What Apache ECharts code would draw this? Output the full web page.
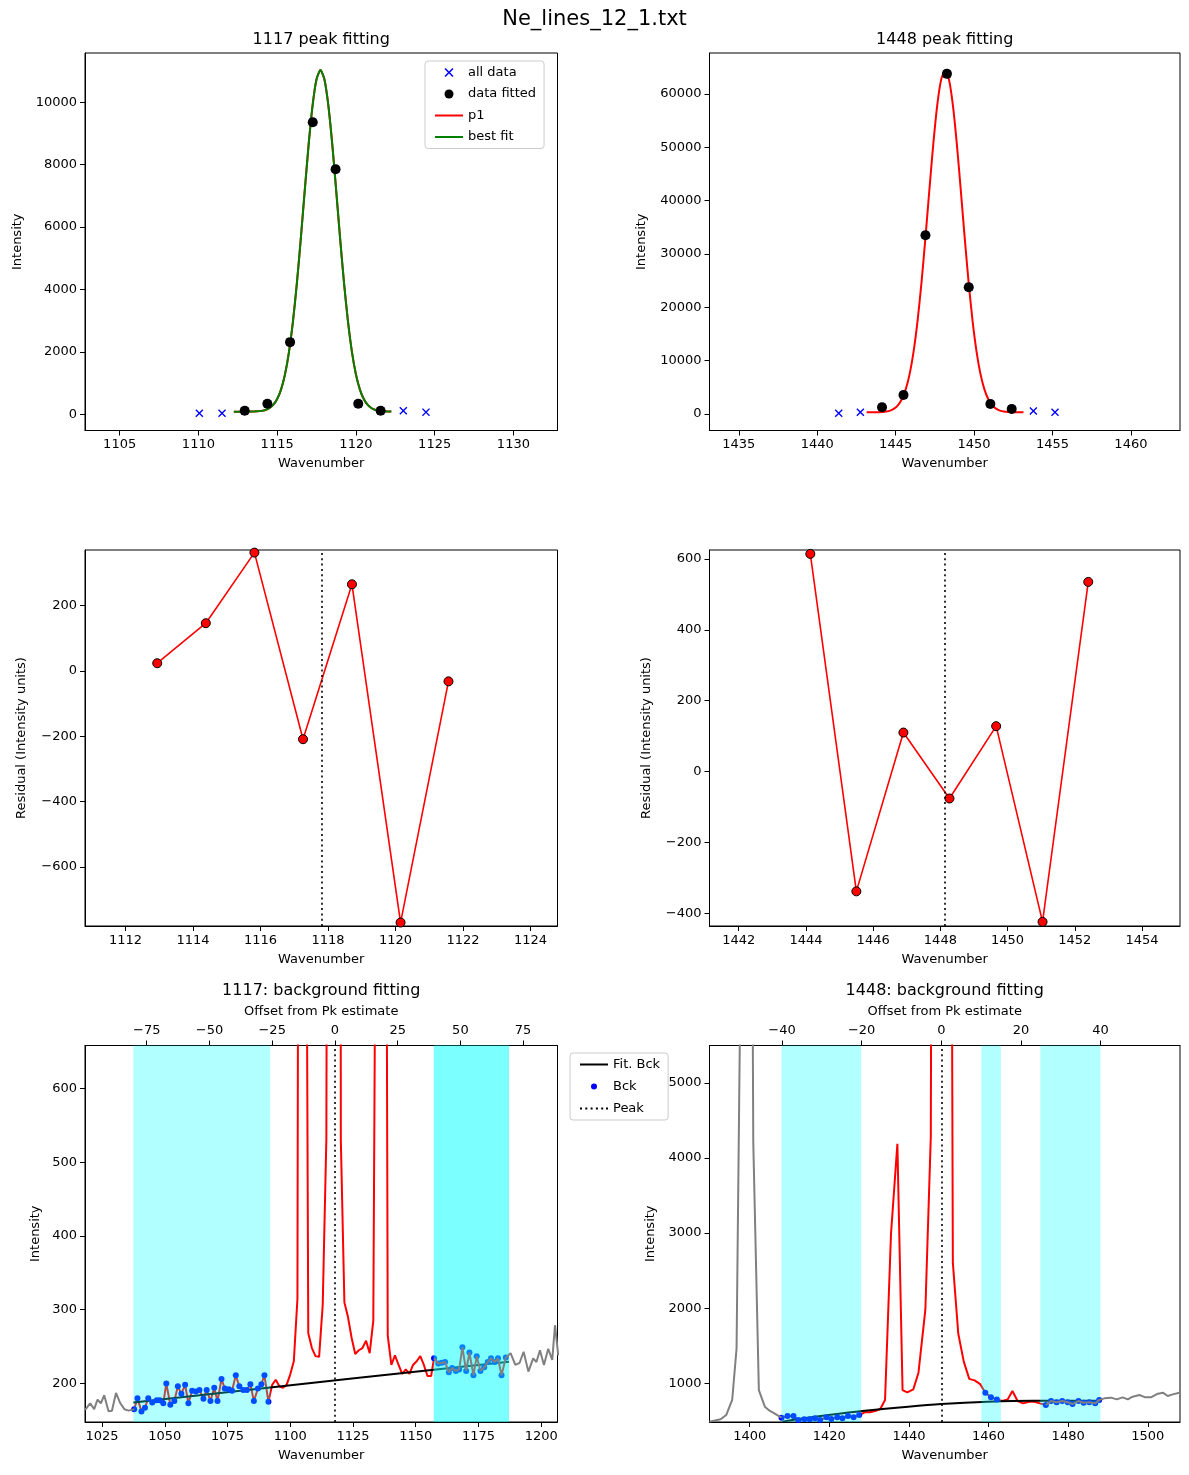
<!DOCTYPE html>
<html>
<head>
<meta charset="utf-8">
<title>Ne_lines_12_1.txt</title>
<script src="https://cdn.jsdelivr.net/npm/echarts@6/dist/echarts.min.js"></script>
<style>
  html, body { margin: 0; padding: 0; background: #fff; }
  #main { width: 1189px; height: 1475px; }
</style>
</head>
<body>
<div id="main"></div>
<script>
// ---- 1117 peak (background subtracted) ----
var wn1117 = [1110.06, 1111.5, 1112.94, 1114.38, 1115.82, 1117.26, 1118.71, 1120.15, 1121.57, 1123.01, 1124.45];
var int1117 = [30, 30, 107, 331, 2308, 9359, 7853, 331, 107, 107, 64];
var fitFrom1117 = 2, fitTo1117 = 8;
var curveWn1117 = [1112.25, 1112.5, 1112.75, 1113.0, 1113.25, 1113.5, 1113.75, 1114.0, 1114.25, 1114.5, 1114.75,
  1115.0, 1115.25, 1115.5, 1115.75, 1116.0, 1116.25, 1116.5, 1116.75, 1117.0, 1117.25, 1117.5, 1117.75,
  1118.0, 1118.25, 1118.5, 1118.75, 1119.0, 1119.25, 1119.5, 1119.75, 1120.0, 1120.25, 1120.5, 1120.75,
  1121.0, 1121.25, 1121.5, 1121.75, 1122.0, 1122.25];
var curve1117 = [80, 80, 80, 81, 82, 84, 90, 104, 132, 189, 295,
  483, 795, 1281, 1990, 2956, 4182, 5617, 7160, 8650, 9903, 10741, 11036,
  10741, 9903, 8650, 7160, 5617, 4182, 2956, 1990, 1281, 795, 483, 295,
  189, 132, 104, 90, 84, 82];
var resid1117 = [23.5, 146, 362, -209, 265, -770, -32];
var peak1117 = 1117.8;

// ---- 1448 peak (background subtracted) ----
var wn1448 = [1441.37, 1442.75, 1444.13, 1445.5, 1446.9, 1448.27, 1449.66, 1451.04, 1452.4, 1453.78, 1455.16];
var int1448 = [130, 320, 1257, 3565, 33520, 63790, 23770, 1876, 938, 560, 320];
var fitFrom1448 = 2, fitTo1448 = 8;
var curveWn1448 = [1443.15, 1443.4, 1443.65, 1443.9, 1444.15, 1444.4, 1444.65, 1444.9, 1445.15, 1445.4, 1445.65,
  1445.9, 1446.15, 1446.4, 1446.65, 1446.9, 1447.15, 1447.4, 1447.65, 1447.9, 1448.15,
  1448.4, 1448.65, 1448.9, 1449.15, 1449.4, 1449.65, 1449.9, 1450.15, 1450.4, 1450.65,
  1450.9, 1451.15, 1451.4, 1451.65, 1451.9, 1452.15, 1452.4, 1452.65, 1452.9, 1453.15];
var curve1448 = [300, 304, 311, 328, 367, 454, 636, 994, 1650, 2810, 4700,
  7620, 11840, 17550, 24735, 33110, 42055, 50670, 57890, 62710, 64400,
  62710, 57890, 50670, 42055, 33110, 24735, 17550, 11840, 7620, 4700,
  2810, 1650, 994, 636, 454, 367, 328, 311, 304, 300];
var resid1448 = [614, -338, 110, -76, 128, -424, 535];
var peak1448 = 1448.13;

// ---- raw spectrum around 1117 ----
var bgWn1117 = [1018.24, 1020.24, 1021.85, 1023.19, 1024.52, 1025.86, 1027.6, 1028.94, 1030.54, 1032.28, 1033.89, 1035.63,
  1037.8, 1039.1, 1040.7, 1042.1, 1043.4, 1045.0, 1046.8, 1048.0, 1049.4, 1050.6, 1052.2, 1053.8, 1055.2, 1056.6, 1058.1,
  1059.4, 1060.9, 1062.4, 1063.8, 1065.4, 1066.7, 1068.2, 1069.7, 1071.0, 1072.6, 1073.9, 1075.5, 1076.8, 1078.3, 1079.7,
  1081.3, 1082.7, 1084.1, 1085.5, 1087.1, 1088.5, 1089.7, 1091.3,
  1092.78, 1094.22, 1095.66, 1097.1, 1098.54, 1099.98, 1101.42, 1102.86, 1104.3, 1105.74, 1107.18, 1108.62, 1110.06,
  1111.5, 1112.94, 1114.38, 1115.82, 1117.26, 1118.71, 1120.15, 1121.57, 1123.01, 1124.45, 1125.89, 1127.33, 1128.77,
  1130.21, 1131.65, 1133.09, 1134.53, 1135.97, 1137.41, 1138.85, 1140.29, 1141.73, 1143.17, 1144.61, 1146.05, 1147.49,
  1148.93, 1150.37, 1151.81, 1153.25, 1154.69, 1156.13,
  1157.3, 1159.0, 1160.4, 1161.7, 1163.2, 1164.5, 1166.0, 1167.3, 1168.6, 1170.1, 1171.4, 1173.0, 1174.3, 1175.8,
  1177.3, 1178.7, 1180.0, 1181.5, 1182.8, 1184.2, 1185.9,
  1187.8, 1189.7, 1191.4, 1193.0, 1194.9, 1196.8, 1198.1, 1199.5, 1201.1, 1202.8, 1204.4, 1205.5, 1206.8];
var bgInt1117 = [164, 173, 165, 178, 173, 184, 162, 163, 187, 173, 165, 163,
  165, 180, 162, 167, 180, 174, 177, 177, 173, 200, 171, 176, 196, 186, 198,
  173, 190, 189, 191, 179, 191, 176, 194, 176, 206, 193, 192, 190, 211, 196,
  191, 191, 199, 176, 193, 199, 211, 175,
  198, 205, 196, 194, 198, 212, 230, 315, 3000, 1500, 268, 248, 237,
  236, 307, 531, 2510, 9560, 8055, 531, 310, 290, 262, 240, 245, 248,
  258, 241, 285, 1200, 4000, 2000, 265, 225, 238, 225, 213, 219, 213,
  225, 230, 237, 225, 210, 210,
  234, 227, 228, 229, 215, 221, 217, 219, 249, 217, 242, 211, 237, 217,
  222, 229, 234, 229, 234, 211, 235,
  241, 225, 228, 243, 216, 234, 229, 245, 225, 247, 232, 279, 238];
// background windows (the right one is shaded twice in the original)
var bgSpan1117 = [[1037.5, 1092.0], [1157.2, 1187.2], [1157.2, 1187.2]];
var fitBgWn1117 = [1037.5, 1092.0, 1157.2, 1187.2];
var fitBg1117 = [174, 194.5, 218.5, 229.5];

// ---- raw spectrum around 1448 ----
var bgWn1448 = [1389.9, 1391.0, 1392.7, 1394.1, 1395.6, 1396.7, 1398.1, 1399.5, 1400.9, 1402.3, 1403.8, 1405.0, 1406.5, 1408.0,
  1409.5, 1411.0, 1412.2, 1413.7, 1415.1, 1416.4, 1417.7, 1419.3, 1420.5, 1422.0, 1423.3, 1424.7, 1426.1, 1427.5,
  1428.9, 1430.2, 1431.5, 1432.8, 1434.0, 1435.5, 1437.1, 1438.4, 1439.6, 1441.1, 1442.4, 1444.13, 1445.5, 1446.9,
  1448.27, 1449.66, 1451.04, 1452.4, 1453.78, 1455.16, 1456.5, 1457.9,
  1459.2, 1460.6, 1462.1,
  1463.5, 1464.8, 1466.0, 1467.3, 1468.7, 1470.2, 1471.5, 1472.9,
  1474.4, 1475.7, 1477.1, 1478.5, 1479.9, 1481.1, 1482.6, 1483.9, 1485.3, 1486.8, 1487.8,
  1489.1, 1490.8, 1492.2, 1493.7, 1495.0, 1496.2, 1497.9, 1499.4, 1500.8, 1502.3, 1503.8, 1505.0, 1506.3, 1507.9];
var bgInt1448 = [491, 504, 522, 579, 779, 1465, 8500, 20000, 4200, 911, 690, 637, 592, 544,
  566, 566, 513, 522, 522, 535, 513, 548, 526, 548, 535, 566, 548, 579,
  615, 615, 632, 659, 779, 2993, 4189, 911, 880, 920, 1142, 1980, 4290, 34240,
  64510, 24490, 2600, 1660, 1290, 1060, 1040, 990,
  876, 814, 787,
  765, 787, 898, 765, 734, 756, 756, 734,
  712, 765, 748, 765, 748, 725, 765, 743, 748, 734, 779,
  801, 810, 787, 814, 787, 823, 845, 814, 814, 858, 876, 832, 854, 876];
var bgSpan1448 = [[1408.0, 1428.0], [1458.2, 1463.1], [1473.0, 1488.1]];
var fitBgWn1448 = [1408.2, 1414.0, 1419.8, 1428.3, 1439.8, 1448.1, 1459.8, 1471.0, 1487.8];
var fitBg1448 = [491, 538, 579, 632, 690, 725, 756, 770, 770];

// ---- tick labels ----
var ticksX1117 = [1105, 1110, 1115, 1120, 1125, 1130];
var ticksY1117 = [0, 2000, 4000, 6000, 8000, 10000];
var ticksX1448 = [1435, 1440, 1445, 1450, 1455, 1460];
var ticksY1448 = [0, 10000, 20000, 30000, 40000, 50000, 60000];
var ticksResX1117 = [1112, 1114, 1116, 1118, 1120, 1122, 1124];
var ticksResY1117 = [-600, -400, -200, 0, 200];
var ticksResX1448 = [1442, 1444, 1446, 1448, 1450, 1452, 1454];
var ticksResY1448 = [-400, -200, 0, 200, 400, 600];
var ticksBgX1117 = [1025, 1050, 1075, 1100, 1125, 1150, 1175, 1200];
var ticksOff1117 = [-75, -50, -25, 0, 25, 50, 75];
var ticksBgY1117 = [200, 300, 400, 500, 600];
var ticksBgX1448 = [1400, 1420, 1440, 1460, 1480, 1500];
var ticksOff1448 = [-40, -20, 0, 20, 40];
var ticksBgY1448 = [1000, 2000, 3000, 4000, 5000];

var FONT = 'DejaVu Sans';
var XMARK = 'path://M0,1.2L1.2,0L5,3.8L8.8,0L10,1.2L6.2,5L10,8.8L8.8,10L5,6.2L1.2,10L0,8.8L3.8,5Z';
var DOTTED = [2, 3.3];
// legend handles
var ICON_LINE = 'path://M0,0H28V2H0Z';
var ICON_DOTTED = 'path://M0,0H2V2H0ZM5.3,0H7.3V2H5.3ZM10.6,0H12.6V2H10.6ZM15.9,0H17.9V2H15.9ZM21.2,0H23.2V2H21.2ZM26,0H28V2H26Z';

function fmt(v) {
  return v < 0 ? '\u2212' + Math.abs(v) : String(v);
}

function pairs(xs, ys) {
  return xs.map(function (x, i) { return [x, ys[i]]; });
}

function axis(grid, min, max, ticks, extra) {
  var a = {
    type: 'value', gridIndex: grid, min: min, max: max,
    axisLine: { show: true, onZero: false, lineStyle: { color: '#000', width: 1 } },
    axisTick: { show: true, length: 5, customValues: ticks, lineStyle: { color: '#000', width: 1 } },
    axisLabel: { customValues: ticks, margin: 8, color: '#000', fontSize: 13, fontFamily: FONT, formatter: fmt },
    splitLine: { show: false },
    nameLocation: 'middle',
    nameTextStyle: { color: '#000', fontSize: 13, fontFamily: FONT }
  };
  for (var k in extra) a[k] = extra[k];
  return a;
}

// split the raw spectrum into the grey parts, the red part and the bck points
function splitBg(wn, ints, spans) {
  var all = pairs(wn, ints);
  var first = spans[0][0];
  var lastStart = spans[spans.length - 1][0];
  var i0 = wn.findIndex(function (x) { return x >= first; });
  var i1 = wn.findIndex(function (x) { return x >= lastStart; });
  return {
    greyLeft: all.slice(0, i0 + 1),
    red: all.slice(i0, i1 + 1),
    greyRight: all.slice(i1),
    bck: all.filter(function (p) {
      return spans.some(function (s) { return p[0] >= s[0] && p[0] <= s[1]; });
    })
  };
}

function bgSeries(ax, tag, parts, spans, fitWn, fit, peak, names) {
  return [
    {
      name: 'red ' + tag, type: 'line', xAxisIndex: ax, yAxisIndex: ax, z: 2,
      data: parts.red, symbol: 'none', lineStyle: { color: '#ff0000', width: 2 },
      markArea: {
        silent: true, z: 3, itemStyle: { color: '#00ffff', opacity: 0.3 },
        data: spans.map(function (s) { return [{ xAxis: s[0] }, { xAxis: s[1] }]; })
      },
      markLine: {
        silent: true, z: 6, symbol: ['none', 'none'], label: { show: false },
        lineStyle: { color: '#000', type: DOTTED, width: 1.6 },
        data: [{ xAxis: peak }]
      }
    },
    {
      name: names[0], type: 'line', xAxisIndex: ax, yAxisIndex: ax, z: 2,
      data: pairs(fitWn, fit), symbol: 'none', smooth: 0.3,
      lineStyle: { color: '#000', width: 2 }, itemStyle: { color: '#000' }
    },
    {
      name: names[1], type: 'scatter', xAxisIndex: ax, yAxisIndex: ax, z: 2,
      data: parts.bck, symbol: 'circle', symbolSize: 6, itemStyle: { color: '#0000ff', opacity: 1 }
    },
    {
      name: 'grey left ' + tag, type: 'line', xAxisIndex: ax, yAxisIndex: ax, z: 4,
      data: parts.greyLeft, symbol: 'none', lineStyle: { color: '#808080', width: 2 }
    },
    {
      name: 'grey right ' + tag, type: 'line', xAxisIndex: ax, yAxisIndex: ax, z: 4,
      data: parts.greyRight, symbol: 'none', lineStyle: { color: '#808080', width: 2 }
    },
    {
      name: names[2], type: 'line', xAxisIndex: ax, yAxisIndex: ax, data: [],
      symbol: 'none', lineStyle: { color: '#000', type: DOTTED, width: 1.6 }, itemStyle: { color: '#000' }
    }
  ];
}

var parts1117 = splitBg(bgWn1117, bgInt1117, bgSpan1117);
var parts1448 = splitBg(bgWn1448, bgInt1448, bgSpan1448);

var L = 85, R = 709.5, WL = 472.5, WR = 470.5;
var bgMin1117 = 1018.2, bgMax1117 = 1206.5;
var bgMin1448 = 1389.9, bgMax1448 = 1508.1;

var chart = echarts.init(document.getElementById('main'), null, { renderer: 'canvas' });

function title(x, y, text, size) {
  return {
    type: 'text', x: x, y: y,
    style: { text: text, font: size + 'px "DejaVu Sans"', fill: '#000', align: 'center', verticalAlign: 'middle', textAlign: 'center', textVerticalAlign: 'middle' }
  };
}

var option = {
  animation: false,
  backgroundColor: '#fff',
  textStyle: { fontFamily: FONT },
  graphic: [
    title(594.5, 20, 'Ne_lines_12_1.txt', 21),
    title(L + WL / 2, 40, '1117 peak fitting', 16),
    title(R + WR / 2, 40, '1448 peak fitting', 16),
    title(L + WL / 2, 991, '1117: background fitting', 16),
    title(R + WR / 2, 991, '1448: background fitting', 16)
  ],
  grid: [
    { left: L, top: 53, width: WL, height: 377.5, show: true, borderColor: '#000', borderWidth: 1 },
    { left: R, top: 53, width: WR, height: 377.5, show: true, borderColor: '#000', borderWidth: 1 },
    { left: L, top: 550, width: WL, height: 376, show: true, borderColor: '#000', borderWidth: 1 },
    { left: R, top: 550, width: WR, height: 376, show: true, borderColor: '#000', borderWidth: 1 },
    { left: L, top: 1045.5, width: WL, height: 376.5, show: true, borderColor: '#000', borderWidth: 1 },
    { left: R, top: 1045.5, width: WR, height: 376.5, show: true, borderColor: '#000', borderWidth: 1 }
  ],
  xAxis: [
    axis(0, 1102.8, 1132.8, ticksX1117, { name: 'Wavenumber', nameGap: 27 }),
    axis(1, 1433.13, 1463.13, ticksX1448, { name: 'Wavenumber', nameGap: 27 }),
    axis(2, 1110.8, 1124.8, ticksResX1117, { name: 'Wavenumber', nameGap: 27 }),
    axis(3, 1441.13, 1455.13, ticksResX1448, { name: 'Wavenumber', nameGap: 27 }),
    axis(4, bgMin1117, bgMax1117, ticksBgX1117, { name: 'Wavenumber', nameGap: 27 }),
    axis(5, bgMin1448, bgMax1448, ticksBgX1448, { name: 'Wavenumber', nameGap: 27 }),
    axis(4, bgMin1117 - peak1117, bgMax1117 - peak1117, ticksOff1117, { position: 'top', name: 'Offset from Pk estimate', nameGap: 27 }),
    axis(5, bgMin1448 - peak1448, bgMax1448 - peak1448, ticksOff1448, { position: 'top', name: 'Offset from Pk estimate', nameGap: 27 })
  ],
  yAxis: [
    axis(0, -525, 11580, ticksY1117, { name: 'Intensity', nameGap: 61 }),
    axis(1, -3100, 67700, ticksY1448, { name: 'Intensity', nameGap: 61 }),
    axis(2, -780.6, 370, ticksResY1117, { name: 'Residual (Intensity units)', nameGap: 57 }),
    axis(3, -435.7, 625, ticksResY1448, { name: 'Residual (Intensity units)', nameGap: 56 }),
    axis(4, 147.6, 658.7, ticksBgY1117, { name: 'Intensity', nameGap: 43 }),
    axis(5, 486, 5496, ticksBgY1448, { name: 'Intensity', nameGap: 52 })
  ],
  legend: [
    {
      left: 425, top: 61, orient: 'vertical', padding: [5, 8, 5, 10], itemGap: 8.5,
      itemWidth: 28, itemHeight: 9, backgroundColor: '#fff', borderColor: '#cccccc', borderWidth: 1, borderRadius: 3,
      textStyle: { color: '#000', fontSize: 13, fontFamily: FONT },
      data: ['all data', 'data fitted', { name: 'p1', icon: ICON_LINE }, { name: 'best fit', icon: ICON_LINE }]
    },
    {
      left: 570, top: 1053, orient: 'vertical', padding: [5, 8, 5, 10], itemGap: 9,
      itemWidth: 28, itemHeight: 6, backgroundColor: '#fff', borderColor: '#cccccc', borderWidth: 1, borderRadius: 3,
      textStyle: { color: '#000', fontSize: 13, fontFamily: FONT },
      data: [{ name: 'Fit. Bck', icon: ICON_LINE }, 'Bck', { name: 'Peak', icon: ICON_DOTTED }]
    }
  ],
  series: [
    // 1117 peak fitting
    { name: 'all data', type: 'scatter', xAxisIndex: 0, yAxisIndex: 0, z: 2,
      data: pairs(wn1117, int1117), symbol: XMARK, symbolSize: 8, itemStyle: { color: '#0000ff', opacity: 1 } },
    { name: 'data fitted', type: 'scatter', xAxisIndex: 0, yAxisIndex: 0, z: 3,
      data: pairs(wn1117, int1117).slice(fitFrom1117, fitTo1117 + 1), symbol: 'circle', symbolSize: 10, itemStyle: { color: '#000', opacity: 1 } },
    { name: 'p1', type: 'line', xAxisIndex: 0, yAxisIndex: 0, z: 2, data: pairs(curveWn1117, curve1117),
      symbol: 'none', smooth: 0.2, lineStyle: { color: '#ff0000', width: 2 }, itemStyle: { color: '#ff0000' } },
    { name: 'best fit', type: 'line', xAxisIndex: 0, yAxisIndex: 0, z: 3, data: pairs(curveWn1117, curve1117),
      symbol: 'none', smooth: 0.2, lineStyle: { color: '#008000', width: 2 }, itemStyle: { color: '#008000' } },

    // 1448 peak fitting
    { name: 'all data 1448', type: 'scatter', xAxisIndex: 1, yAxisIndex: 1, z: 2,
      data: pairs(wn1448, int1448), symbol: XMARK, symbolSize: 8, itemStyle: { color: '#0000ff', opacity: 1 } },
    { name: 'data fitted 1448', type: 'scatter', xAxisIndex: 1, yAxisIndex: 1, z: 3,
      data: pairs(wn1448, int1448).slice(fitFrom1448, fitTo1448 + 1), symbol: 'circle', symbolSize: 10, itemStyle: { color: '#000', opacity: 1 } },
    { name: 'p1 1448', type: 'line', xAxisIndex: 1, yAxisIndex: 1, z: 3, data: pairs(curveWn1448, curve1448),
      symbol: 'none', smooth: 0.2, lineStyle: { color: '#ff0000', width: 2 } },

    // residuals
    { name: 'resid 1117', type: 'line', xAxisIndex: 2, yAxisIndex: 2,
      data: pairs(wn1117.slice(fitFrom1117, fitTo1117 + 1), resid1117),
      symbol: 'circle', symbolSize: 9, showSymbol: true,
      lineStyle: { color: '#ff0000', width: 1.6 }, itemStyle: { color: '#ff0000', borderColor: '#000', borderWidth: 1, opacity: 1 },
      markLine: { silent: true, symbol: ['none', 'none'], label: { show: false },
        lineStyle: { color: '#000', type: DOTTED, width: 1.6 }, data: [{ xAxis: peak1117 }] } },
    { name: 'resid 1448', type: 'line', xAxisIndex: 3, yAxisIndex: 3,
      data: pairs(wn1448.slice(fitFrom1448, fitTo1448 + 1), resid1448),
      symbol: 'circle', symbolSize: 9, showSymbol: true,
      lineStyle: { color: '#ff0000', width: 1.6 }, itemStyle: { color: '#ff0000', borderColor: '#000', borderWidth: 1, opacity: 1 },
      markLine: { silent: true, symbol: ['none', 'none'], label: { show: false },
        lineStyle: { color: '#000', type: DOTTED, width: 1.6 }, data: [{ xAxis: peak1448 }] } }
  ]
    .concat(bgSeries(4, '1117', parts1117, bgSpan1117, fitBgWn1117, fitBg1117, peak1117, ['Fit. Bck', 'Bck', 'Peak']))
    .concat(bgSeries(5, '1448', parts1448, bgSpan1448, fitBgWn1448, fitBg1448, peak1448, ['Fit. Bck 1448', 'Bck 1448', 'Peak 1448']))
};

chart.setOption(option);
</script>
</body>
</html>
